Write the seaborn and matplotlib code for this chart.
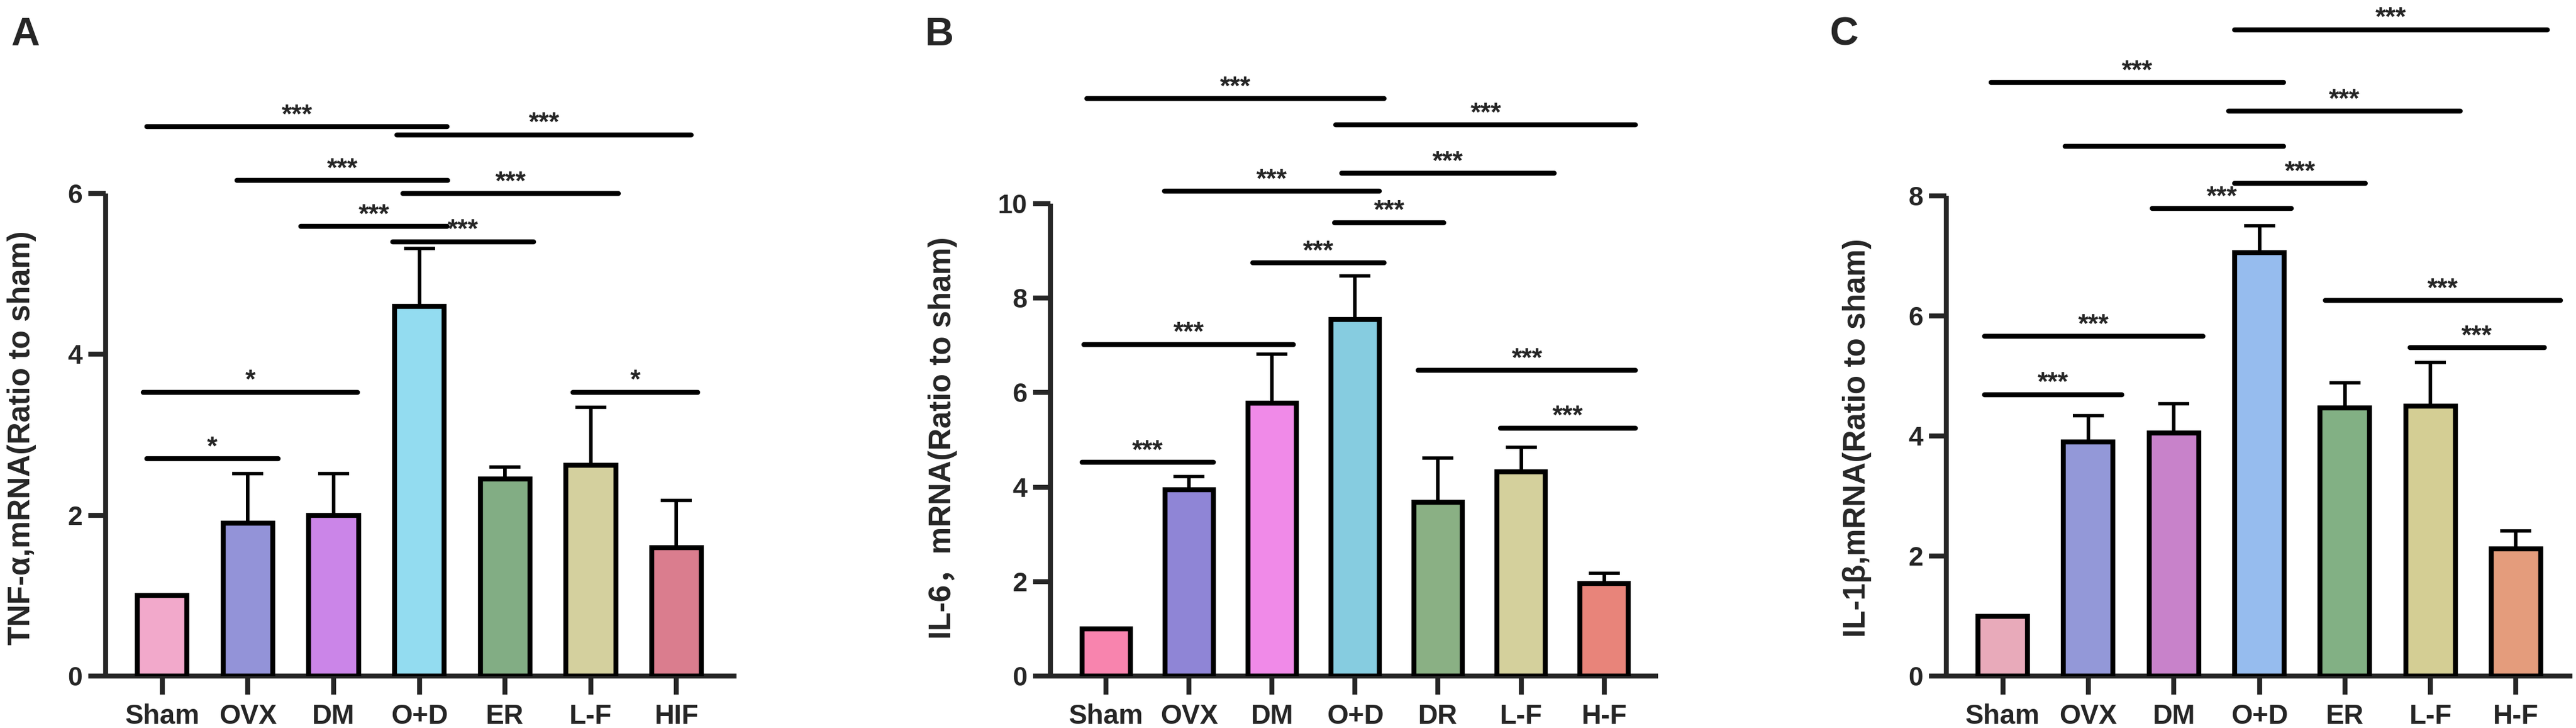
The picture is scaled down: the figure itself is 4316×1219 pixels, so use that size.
import matplotlib
matplotlib.use('Agg')
import matplotlib.pyplot as plt
import seaborn as sns
import numpy as np

sns.set_style('ticks')
plt.rcParams['font.family'] = ['Liberation Sans', 'Noto Sans CJK SC', 'DejaVu Sans']
plt.rcParams['font.weight'] = 'bold'

# panel A - TNF-a
groups_a = ['Sham', 'OVX', 'DM', 'O+D', 'ER', 'L-F', 'HIF']
tnf_mean = [1.0, 1.9, 2.0, 4.6, 2.45, 2.62, 1.6]
tnf_sd = [0.0, 0.62, 0.52, 0.72, 0.15, 0.72, 0.58]
colors_a = ['#F2A9CB', '#9393D8', '#CB85E8', '#93DCF0', '#82AD84', '#D4D09E', '#DA7D8E']
sig_a = [(-0.18, 1.35, 2.70, '*'), (-0.22, 2.28, 3.53, '*'), (4.79, 6.25, 3.53, '*'),
         (2.69, 4.33, 5.40, '***'), (1.62, 3.32, 5.59, '***'), (2.81, 5.32, 6.00, '***'),
         (0.87, 3.33, 6.16, '***'), (2.74, 6.17, 6.73, '***'), (-0.18, 3.32, 6.83, '***')]

# panel B - IL-6
groups_b = ['Sham', 'OVX', 'DM', 'O+D', 'DR', 'L-F', 'H-F']
il6_mean = [1.0, 3.95, 5.78, 7.55, 3.68, 4.32, 1.96]
il6_sd = [0.0, 0.27, 1.03, 0.92, 0.93, 0.52, 0.22]
colors_b = ['#F884AE', '#8F85D6', '#F08AE8', '#86CCE0', '#8AB084', '#D4D09C', '#E8847A']
sig_b = [(-0.29, 1.29, 4.52, '***'), (-0.27, 2.26, 7.02, '***'), (1.77, 3.35, 8.75, '***'),
         (2.75, 4.07, 9.60, '***'), (0.70, 3.29, 10.26, '***'), (2.84, 5.40, 10.64, '***'),
         (2.77, 6.38, 11.67, '***'), (-0.23, 3.35, 12.22, '***'), (3.76, 6.38, 6.47, '***'),
         (4.75, 6.38, 5.25, '***')]

# panel C - IL-1b
groups_c = ['Sham', 'OVX', 'DM', 'O+D', 'ER', 'L-F', 'H-F']
il1b_mean = [1.0, 3.9, 4.05, 7.05, 4.47, 4.5, 2.12]
il1b_sd = [0.0, 0.44, 0.49, 0.45, 0.42, 0.72, 0.3]
colors_c = ['#E8AABA', '#9398D8', '#C882CA', '#96BCEE', '#82B084', '#D4CE94', '#E49C7C']
sig_c = [(-0.21, 1.39, 4.69, '***'), (-0.21, 2.34, 5.66, '***'), (1.75, 3.37, 7.79, '***'),
         (2.71, 4.24, 8.21, '***'), (0.73, 3.28, 8.83, ''), (2.64, 5.35, 9.41, '***'),
         (-0.14, 3.28, 9.89, '***'), (2.71, 6.37, 10.77, '***'), (3.77, 6.52, 6.26, '***'),
         (4.76, 6.33, 5.47, '***')]

W, H = 4316, 1219
fig = plt.figure(figsize=(W / 100, H / 100), dpi=100)


def panel(rect, groups, means, sds, colors, ymax, xlim, sig):
    ax = fig.add_axes(rect)
    sns.barplot(x=groups, y=means, hue=groups, palette=colors, legend=False,
                width=0.58, edgecolor='black', linewidth=6, saturation=1,
                errorbar=None, ax=ax, zorder=3)
    ax.errorbar(np.arange(len(groups)), means, yerr=[np.zeros(len(sds)), sds],
                fmt='none', ecolor='black', elinewidth=4.3, capsize=19, capthick=4, zorder=2)
    ax.set_xlim(*xlim)
    ax.set_ylim(0, ymax)
    ax.set_yticks(np.arange(0, ymax + 1, 2))
    sns.despine(ax=ax)
    for s in ['left', 'bottom']:
        ax.spines[s].set_linewidth(6)
        ax.spines[s].set_capstyle('butt')
    ax.tick_params(axis='x', length=22, width=6, pad=11, labelsize=33)
    ax.tick_params(axis='y', length=21, width=6, pad=7, labelsize=32)
    for lab in ax.get_xticklabels() + ax.get_yticklabels():
        lab.set_fontweight('bold')
    ax.set_xlabel('')
    ax.set_ylabel('')
    for x1, x2, y, txt in sig:
        ax.plot([x1, x2], [y, y], color='black', lw=6, solid_capstyle='round', clip_on=False)
        if txt:
            ax.annotate(txt, xy=((x1 + x2) / 2, y), xytext=(0, 5), textcoords='offset points',
                        ha='center', va='baseline', fontsize=32, fontweight='bold',
                        annotation_clip=False)
    return ax


def frect(x0, x1, ytop, ybot):
    return [x0 / W, 1 - ybot / H, (x1 - x0) / W, (ybot - ytop) / H]


panel(frect(177, 1234, 324, 1132), groups_a, tnf_mean, tnf_sd, colors_a, 6, (-0.66, 6.70), sig_a)
panel(frect(1760, 2778, 341, 1132), groups_b, il6_mean, il6_sd, colors_b, 10, (-0.67, 6.65), sig_b)
panel(frect(3261, 4310, 328, 1132), groups_c, il1b_mean, il1b_sd, colors_c, 8, (-0.66, 6.66), sig_c)

for x, letter in [(42, 'A'), (1574, 'B'), (3089, 'C')]:
    fig.text(x / W, 1 - 59 / H, letter, fontsize=48, fontweight='bold', ha='center', va='center')

ylabels = [(37, 'TNF-α,mRNA(Ratio to sham)'), (1579, 'IL-6，mRNA(Ratio to sham)'),
           (3112, 'IL-1β,mRNA(Ratio to sham)')]
for x, txt in ylabels:
    fig.text(x / W, 1 - 733 / H, txt, rotation=90, fontsize=37, fontweight='bold',
             ha='center', va='center')

fig.savefig('out.png', dpi=100)
